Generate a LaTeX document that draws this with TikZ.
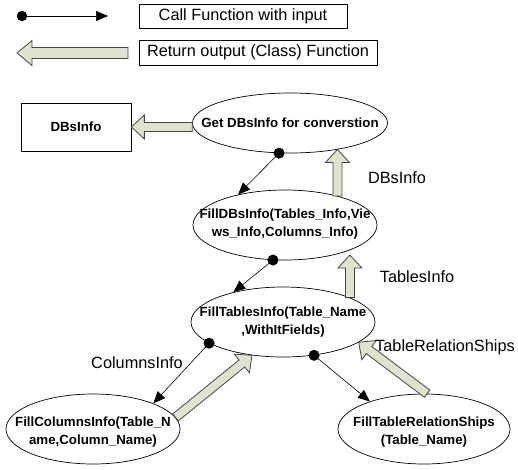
\documentclass[tikz,border=0pt]{standalone}
\usepackage{fontspec}
\setmainfont{Liberation Sans}
\usetikzlibrary{calc,arrows.meta,shapes.geometric}
\definecolor{sage}{RGB}{222,226,206}
\definecolor{edge}{RGB}{70,70,70}
\newcommand{\blockarr}[5]{%
  \draw[hollowarr] ($(#1)!#3pt!90:(#2)$)
    -- ($($(#2)!#5pt!(#1)$)!#3pt!90:(#2)$)
    -- ($($(#2)!#5pt!(#1)$)!#4pt!90:(#2)$)
    -- (#2)
    -- ($($(#2)!#5pt!(#1)$)!#4pt!-90:(#2)$)
    -- ($($(#2)!#5pt!(#1)$)!#3pt!-90:(#2)$)
    -- ($(#1)!#3pt!-90:(#2)$) -- cycle;}
\begin{document}
\begin{tikzpicture}[x=1pt,y=-1pt,
  hollowarr/.style={draw=edge,fill=sage,line width=0.8pt,line join=miter},
  func/.style={ellipse,draw=black,line width=0.7pt,inner sep=0pt},
  ftext/.style={font=\fontsize{13.3}{17.5}\selectfont\bfseries,align=center,inner sep=0pt},
  lbl/.style={font=\fontsize{16.3}{19}\selectfont,inner sep=0pt},
  legbox/.style={draw=black,line width=0.7pt,inner sep=0pt},
  call/.style={draw=black,line width=0.6pt,-{Triangle[length=12pt,width=10pt]}},
  dotr/.style={fill=black}]
\useasboundingbox (0,0) rectangle (518,469);
% legend
\coordinate (l1s) at (22,16);
\coordinate (l1e) at (108,16);
\draw[call] (l1s) -- (l1e);
\fill[dotr] (l1s) circle[radius=5.2pt];
\node[legbox,minimum width=208pt,minimum height=24pt] (lb1) at (243,16) {};
\node[lbl] (lt1) at (lb1.center) {Call Function with input};
\coordinate (l2s) at (128,53);
\coordinate (l2e) at (17,53);
\blockarr{l2s}{l2e}{5.5}{12.5}{15}
\node[legbox,minimum width=238pt,minimum height=25pt] (lb2) at (258,52.5) {};
\node[lbl] (lt2) at (lb2.center) {Return output (Class) Function};
% DBsInfo box
\node[legbox,minimum width=110pt,minimum height=48pt] (dbs) at (76,127) {};
\node[ftext] (dbst) at (dbs.center) {DBsInfo};
% ellipses
\node[func,minimum width=195pt,minimum height=60pt] (get) at (290,123) {};
\node[ftext] (gett) at (get.center) {Get DBsInfo for converstion};
\node[func,minimum width=184pt,minimum height=70pt] (fdb) at (285,225) {};
\node[ftext] (fdbt) at (285,224) {FillDBsInfo(Tables\_Info,Vie\\ws\_Info,Columns\_Info)};
\node[func,minimum width=184pt,minimum height=70pt] (ftab) at (283,322) {};
\node[ftext] (ftabt) at (283,322) {FillTablesInfo(Table\_Name\\,WithItFields)};
\node[func,minimum width=174pt,minimum height=70pt] (fcol) at (93,429) {};
\node[ftext] (fcolt) at (93,432) {FillColumnsInfo(Table\_N\\ame,Column\_Name)};
\node[func,minimum width=172pt,minimum height=70pt] (frel) at (424,429) {};
\node[ftext] (frelt) at (424,432) {FillTableRelationShips\\(Table\_Name)};
% call arrows
\draw[call] (get.250) -- (fdb.147);
\fill[dotr] (get.250) circle[radius=5.5pt];
\draw[call] (fdb.251) -- (ftab.149);
\fill[dotr] (fdb.251) circle[radius=5.5pt];
\draw[call] (ftab.196) -- (fcol.23);
\fill[dotr] (ftab.196) circle[radius=5.5pt];
\draw[call] (ftab.313) -- (frel.153);
\fill[dotr] (ftab.313) circle[radius=5.5pt];
% return arrows
\coordinate (gw) at (get.west |- dbs.east);
\blockarr{gw}{dbs.east}{4.5}{12}{13}
\coordinate (u1) at (fdb.29 |- get.-29);
\blockarr{fdb.29}{u1}{4.5}{12}{13}
\coordinate (u2a) at (ftab.20 |- fdb.-21);
\coordinate (u2) at ($(u2a)+(0,5)$);
\blockarr{ftab.20}{u2}{4.5}{12}{13}
\blockarr{fcol.8}{ftab.227}{4.5}{12}{13}
\blockarr{frel.85}{ftab.-15}{4.5}{12}{13}
% labels
\node[lbl] (ldb) at (397,178) {DBsInfo};
\node[lbl] (ltab) at (417,277) {TablesInfo};
\node[lbl] (lrel) at (445,347) {TableRelationShips};
\node[lbl] (lcol) at (137,363) {ColumnsInfo};
\end{tikzpicture}
\end{document}
